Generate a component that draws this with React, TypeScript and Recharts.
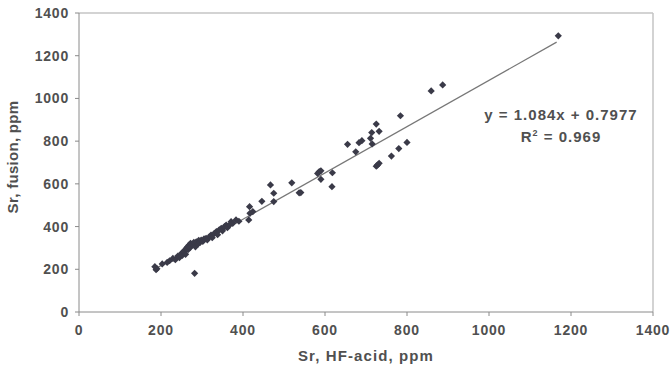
import { ScatterChart, Scatter, XAxis, YAxis, ReferenceLine } from 'recharts';

// Sr values (ppm)
const hfAcid = [
  185, 190, 188, 203, 215, 221, 229, 235, 241, 245, 250, 252, 255, 258, 260, 262, 265, 266, 268, 270,
  272, 274, 276, 280, 282, 284, 286, 290, 292, 295, 298, 302, 305, 310, 313, 318, 322, 325, 330, 335,
  338, 342, 347, 350, 355, 359, 362, 367, 371, 375, 383, 390, 414, 416, 417, 424, 446, 467, 475, 475,
  519, 537, 541, 582, 586, 590, 590, 618, 617, 655, 675, 683, 690, 711, 714, 725, 732, 715, 725, 728,
  732, 762, 780, 800, 784, 859, 887, 1169,
];
const fusion = [
  212, 203, 198, 225, 232, 240, 251, 245, 262, 255, 275, 265, 282, 290, 270, 298, 306, 292, 312, 300,
  322, 310, 318, 326, 181, 305, 329, 318, 335, 325, 337, 330, 342, 345, 338, 352, 360, 348, 368, 376,
  362, 385, 392, 380, 400, 407, 395, 407, 423, 415, 431, 425, 431, 493, 462, 470, 518, 595, 556, 517,
  605, 558, 559, 649, 657, 661, 621, 652, 587, 785, 750, 793, 802, 813, 840, 880, 846, 787, 683, 688,
  696, 730, 765, 794, 919, 1035, 1063, 1293,
];

const ticks = [0, 200, 400, 600, 800, 1000, 1200, 1400];

// fitted line reported on the chart
const slope = 1.084;
const intercept = 0.7977;
const fitRange = [182, 1165];

const points = hfAcid.map((x, i) => ({ x, y: fusion[i] }));

const textColor = '#505050';
const axisColor = '#8a8a8a';
const tickStyle = { fill: textColor, fontSize: 14, fontWeight: 700, letterSpacing: 0.8 };

const Diamond = (props: any) => {
  const { cx, cy } = props;
  const r = 3.6;
  return <polygon points={`${cx},${cy - r} ${cx + r},${cy} ${cx},${cy + r} ${cx - r},${cy}`} fill="#3a3a48" />;
};

const YTitle = () => (
  <text
    x={12}
    y={157}
    transform="rotate(-90, 12, 157)"
    textAnchor="middle"
    dominantBaseline="central"
    fill={textColor}
    fontSize={15}
    fontWeight={700}
    letterSpacing={0.3}
  >
    Sr, fusion, ppm
  </text>
);

export default function App() {
  return (
    <div
      style={{
        position: 'absolute',
        left: 0,
        top: 0,
        width: 672,
        height: 377,
        background: '#fff',
        fontFamily: '"Liberation Sans", Arial, sans-serif',
      }}
    >
      <ScatterChart width={672} height={377} margin={{ top: 13, right: 19, bottom: 0, left: 0 }}>
        <XAxis
          type="number"
          dataKey="x"
          domain={[0, 1400]}
          ticks={ticks}
          height={65}
          stroke={axisColor}
          tickSize={4}
          tickMargin={9}
          tick={tickStyle}
          label={{
            value: 'Sr, HF-acid, ppm',
            position: 'insideBottom',
            offset: 16,
            style: { fill: textColor, fontSize: 15, fontWeight: 700, letterSpacing: 1.1 },
          }}
        />
        <YAxis
          type="number"
          dataKey="y"
          domain={[0, 1400]}
          ticks={ticks}
          width={79}
          stroke={axisColor}
          tickSize={4}
          tickMargin={6}
          tick={tickStyle}
          label={{ content: () => <YTitle /> }}
        />
        <ReferenceLine y={1400} stroke="#c4c4c4" strokeWidth={1.5} />
        <ReferenceLine x={1400} stroke="#c4c4c4" strokeWidth={1.5} />
        <ReferenceLine
          segment={[
            { x: fitRange[0], y: slope * fitRange[0] + intercept },
            { x: fitRange[1], y: slope * fitRange[1] + intercept },
          ]}
          stroke="#777"
          strokeWidth={1.2}
        />
        <Scatter data={points} shape={<Diamond />} isAnimationActive={false} />
      </ScatterChart>
      <div
        style={{
          position: 'absolute',
          left: 461,
          top: 104,
          width: 200,
          textAlign: 'center',
          color: textColor,
          fontSize: 15,
          fontWeight: 700,
          lineHeight: '22px',
          letterSpacing: 1,
        }}
      >
        <div>y = 1.084x + 0.7977</div>
        <div>
          R<sup style={{ fontSize: 9, verticalAlign: 'top', lineHeight: '14px' }}>2</sup> = 0.969
        </div>
      </div>
    </div>
  );
}
